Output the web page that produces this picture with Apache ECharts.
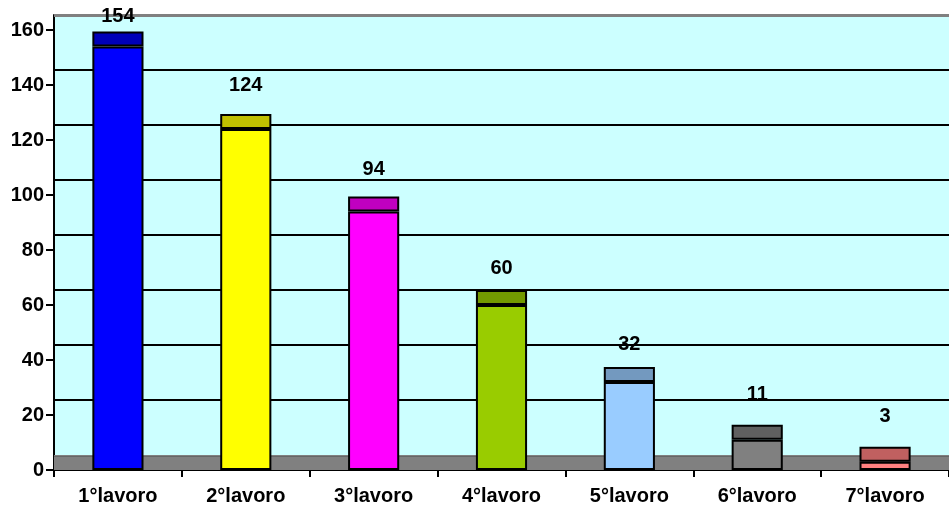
<!DOCTYPE html>
<html>
<head>
<meta charset="utf-8">
<script src="https://cdn.jsdelivr.net/npm/echarts@6/dist/echarts.min.js"></script>
<style>
  html, body { margin: 0; padding: 0; background: #ffffff; }
  #chart { width: 949px; height: 506px; }
</style>
</head>
<body>
<div id="chart"></div>
<script>
// Data
const categories = ['1°lavoro', '2°lavoro', '3°lavoro', '4°lavoro', '5°lavoro', '6°lavoro', '7°lavoro'];
const counts = [154, 124, 94, 60, 32, 11, 3];
const yTickValues = [0, 20, 40, 60, 80, 100, 120, 140, 160];

// Styling
const frontColors = ['#0000FF', '#FFFF00', '#FF00FF', '#99CC00', '#99CCFF', '#808080', '#FF8080'];
const topColors = ['#0000B8', '#C0C000', '#C000C0', '#739900', '#7399BF', '#606060', '#C06060'];
const depth = 5.5;                       // 3D depth of bars / floor, in axis units
const labelGap = [5, 18, 17, 11, 12, 20, 20];
const font = "'Liberation Sans', Arial, sans-serif";

const chart = echarts.init(document.getElementById('chart'), null, { renderer: 'canvas' });

// Back-wall gridlines sit one depth above the front tick values
const wallLines = yTickValues.filter(v => v > 0 && v < 160).map(v => ({ yAxis: v + depth }));

chart.setOption({
  animation: false,
  backgroundColor: '#ffffff',
  grid: {
    left: 54, right: 0, top: 15, bottom: 36,
    show: true, backgroundColor: '#CCFFFF', borderWidth: 0
  },
  xAxis: {
    type: 'category',
    data: categories,
    axisLine: { show: true, lineStyle: { color: '#000', width: 2 } },
    axisTick: { show: true, length: 7, lineStyle: { color: '#000', width: 2 } },
    axisLabel: { color: '#000', fontFamily: font, fontWeight: 'bold', fontSize: 20, margin: 16 }
  },
  yAxis: {
    type: 'value',
    min: 0,
    max: 160 + depth,
    axisLine: { show: true, lineStyle: { color: '#000', width: 2 } },
    axisTick: { show: true, length: 8, customValues: yTickValues, lineStyle: { color: '#000', width: 2 } },
    axisLabel: { customValues: yTickValues, color: '#000', fontFamily: font, fontWeight: 'bold', fontSize: 20, margin: 10 },
    splitLine: { show: false }
  },
  series: [
    {
      // floor and back-wall lines
      type: 'line',
      data: [],
      z: 1,
      silent: true,
      markArea: {
        silent: true,
        z: 1,
        itemStyle: { color: '#808080' },
        data: [[{ yAxis: 0 }, { yAxis: depth }]]
      },
      markLine: {
        silent: true,
        z: 2,
        symbol: ['none', 'none'],
        label: { show: false },
        data: [
          ...wallLines.map(d => ({ ...d, lineStyle: { color: '#000', width: 2, type: 'solid' } })),
          { yAxis: depth - 0.6, lineStyle: { color: '#666666', width: 1, type: 'solid' } },
          { yAxis: 160 + depth, lineStyle: { color: '#808080', width: 3, type: 'solid' } }
        ]
      }
    },
    {
      name: 'front',
      type: 'bar',
      stack: 'bar',
      z: 3,
      barWidth: '40%',
      data: counts.map((v, i) => ({
        value: v,
        itemStyle: { color: frontColors[i], borderColor: '#000', borderWidth: 2 }
      }))
    },
    {
      name: 'top',
      type: 'bar',
      stack: 'bar',
      z: 3,
      barWidth: '40%',
      data: counts.map((v, i) => ({
        value: depth,
        itemStyle: { color: topColors[i], borderColor: '#000', borderWidth: 2 },
        label: { distance: labelGap[i] }
      })),
      label: {
        show: true,
        position: 'top',
        color: '#000',
        fontFamily: font,
        fontWeight: 'bold',
        fontSize: 20,
        formatter: p => String(counts[p.dataIndex])
      }
    }
  ]
});
</script>
</body>
</html>
